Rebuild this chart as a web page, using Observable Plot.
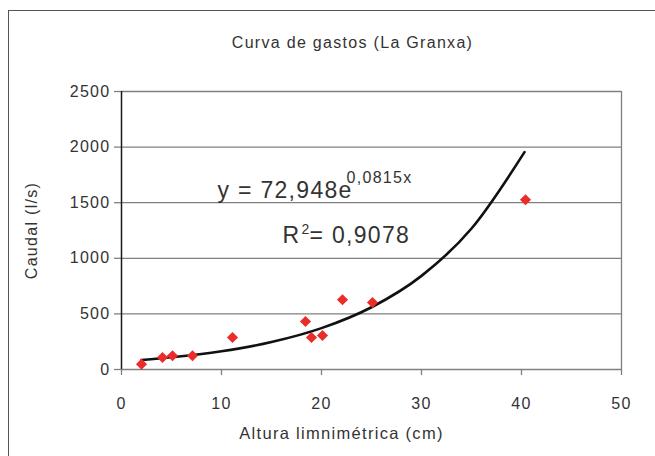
<!DOCTYPE html>
<html><head><meta charset="utf-8">
<script src="https://cdn.jsdelivr.net/npm/d3@7"></script>
<script src="https://cdn.jsdelivr.net/npm/@observablehq/plot@0.6"></script>
<style>
body{margin:0;background:#fff;}
#wrap{position:relative;width:655px;height:456px;overflow:hidden;background:#fff;}
#border{position:absolute;left:8px;top:10px;width:800px;height:600px;border-left:1.6px solid #555;border-top:1.6px solid #555;}
#chart{position:absolute;left:0;top:0;}
</style></head><body>
<div id="wrap"><div id="border"></div><div id="chart"></div></div>
<script>
// Observed data points
const altura = [2, 4.1, 5.1, 7.1, 11.1, 18.4, 19, 20.1, 22.1, 25.1, 40.4];
const caudal = [48, 108, 123, 123, 288, 432, 288, 306, 627, 602, 1526];
// Trendline
const trendX = [2, 5, 10, 15, 20, 25, 30, 35, 40.3];
const trendY = [86, 110, 164, 247, 372, 560, 842, 1268, 1955];
// Ticks
const xTicks = [0, 10, 20, 30, 40, 50];
const yTicks = [0, 500, 1000, 1500, 2000, 2500];
// Texts
const titleText = "Curva de gastos (La Granxa)";
const xLabel = "Altura limnimétrica (cm)";
const yLabel = "Caudal (l/s)";
const eqMain = "y = 72,948e";
const eqExp = "0,0815x";
const r2R = "R";
const r2Sup = "2";
const r2Val = "= 0,9078";

const points = altura.map((x, i) => ({x, y: caudal[i]}));
const trend = trendX.map((x, i) => ({x, y: trendY[i]}));

const txt = (s, o) => Plot.text([s], {text: d => d, fill: "#333", lineAnchor: "bottom", ...o});

const plot = Plot.plot({
  width: 655, height: 456,
  marginLeft: 121, marginRight: 34, marginTop: 91, marginBottom: 87,
  style: {fontFamily: "'Liberation Sans', Arial, sans-serif", fontSize: "16px", color: "#333", background: "transparent", overflow: "visible", letterSpacing: "1.3px"},
  x: {domain: [0, 50]},
  y: {domain: [0, 2500]},
  marks: [
    Plot.gridY(yTicks.slice(1), {stroke: "#808080", strokeOpacity: 1, strokeWidth: 1.3}),
    Plot.ruleX([50], {stroke: "#808080", strokeWidth: 1.3}),
    Plot.ruleY([0], {stroke: "#808080", strokeWidth: 1.3}),
    Plot.axisX({ticks: xTicks, tickSize: 6, tickPadding: 22, tickFormat: d => String(d), label: null, stroke: "#808080", strokeWidth: 1.3, fill: "#333"}),
    Plot.axisY({ticks: yTicks, tickSize: 7, tickPadding: 4, tickFormat: d => String(d), label: null, stroke: "#808080", strokeWidth: 1.3, fill: "#333"}),
    Plot.ruleX([0], {stroke: "#1a1a1a", strokeWidth: 1.5}),
    Plot.line(trend, {x: "x", y: "y", stroke: "#111", strokeWidth: 2.6, curve: "monotone-x"}),
    Plot.dot(points, {x: "x", y: "y", symbol: "diamond2", r: 5, fill: "#ec2c29", stroke: "none"}),
    txt(titleText, {frameAnchor: "top", dx: -19, dy: -44, fontSize: 16, textAnchor: "middle"}),
    txt(xLabel, {frameAnchor: "bottom", dx: -30, dy: 69, fontSize: 16.5, textAnchor: "middle"}),
    Plot.text([yLabel], {text: d => d, frameAnchor: "left", dx: -90, rotate: -90, fontSize: 16, textAnchor: "middle", lineAnchor: "middle", fill: "#333"}),
    txt(eqMain, {frameAnchor: "top-left", dx: 96, dy: 106, fontSize: 23, textAnchor: "start"}),
    txt(eqExp, {frameAnchor: "top-left", dx: 225, dy: 91, fontSize: 16, textAnchor: "start"}),
    txt(r2R, {frameAnchor: "top-left", dx: 161, dy: 151, fontSize: 23, textAnchor: "start"}),
    txt(r2Sup, {frameAnchor: "top-left", dx: 180, dy: 142, fontSize: 14, textAnchor: "start"}),
    txt(r2Val, {frameAnchor: "top-left", dx: 188, dy: 151, fontSize: 23, textAnchor: "start"})
  ]
});
document.getElementById("chart").appendChild(plot);
</script>
</body></html>
